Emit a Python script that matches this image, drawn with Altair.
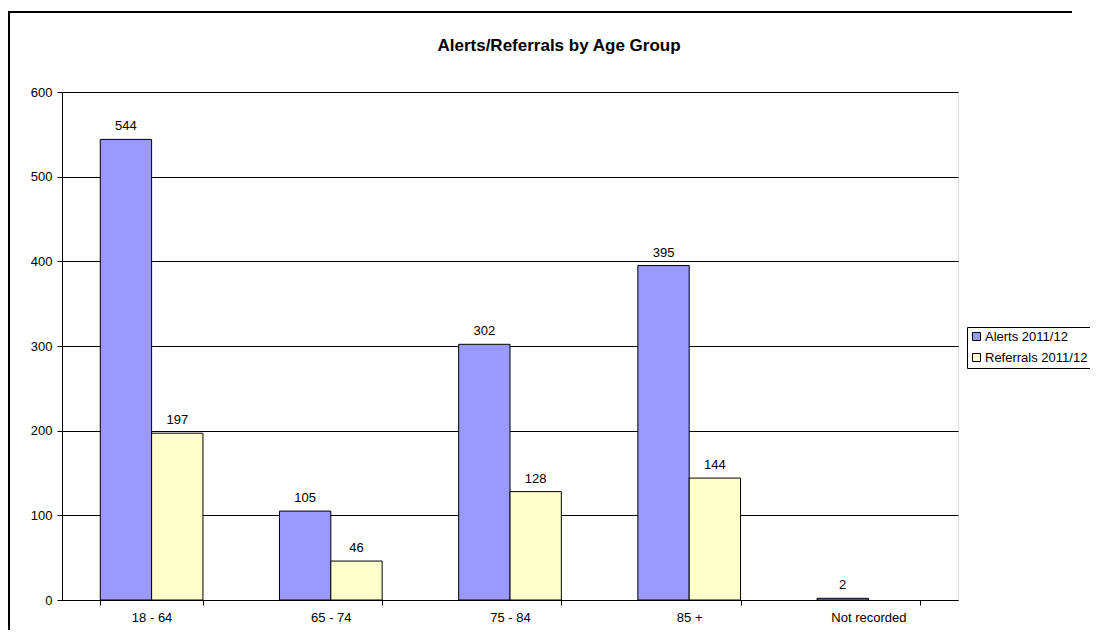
import altair as alt
import pandas as pd

categories = ["18 - 64", "65 - 74", "75 - 84", "85 +", "Not recorded"]
alerts = [544, 105, 302, 395, 2]
referrals = [197, 46, 128, 144, 0]
series = ["Alerts 2011/12", "Referrals 2011/12"]
colors = ["#9999FF", "#FFFFCC"]
y_ticks = [0, 100, 200, 300, 400, 500, 600]
title_text = ["Alerts/Referrals by Age Group"]

rows = []
for c, a, r in zip(categories, alerts, referrals):
    rows.append({"cat": c, "series": series[0], "value": a})
    rows.append({"cat": c, "series": series[1], "value": r})
df = pd.DataFrame(rows)

FONT = "Liberation Sans"

x = alt.X(
    "cat:N",
    sort=categories,
    scale=alt.Scale(paddingInner=0.427, paddingOuter=0.2135),
    axis=alt.Axis(
        title=None, labelAngle=0, tickBand="extent", tickSize=5, labelPadding=6,
        domainColor="black", tickColor="black", labelColor="black",
        labelFontSize=13, labelFont=FONT, grid=False, domainWidth=1,
    ),
)
xo = alt.XOffset("series:N", sort=series, scale=alt.Scale(domain=series, paddingInner=0, paddingOuter=0))
y = alt.Y(
    "value:Q",
    scale=alt.Scale(domain=[0, 600], nice=False),
    axis=alt.Axis(
        title=None, values=y_ticks, tickSize=5, labelPadding=5, grid=True,
        gridColor="black", gridOpacity=1, gridWidth=1,
        domainColor="black", tickColor="black", labelColor="black",
        labelFontSize=13, labelFont=FONT,
    ),
)

base = alt.Chart(df).transform_filter(alt.datum.value > 0)

bars = base.mark_bar(stroke="black", strokeWidth=1).encode(
    x=x,
    xOffset=xo,
    y=y,
    color=alt.Color(
        "series:N",
        sort=series,
        scale=alt.Scale(domain=series, range=colors),
        legend=alt.Legend(
            title=None, orient="none", legendX=905, legendY=235,
            symbolType="square", symbolSize=64, symbolStrokeColor="black",
            symbolStrokeWidth=1, symbolOpacity=1, labelFontSize=13, labelFont=FONT,
            labelColor="black", strokeColor="black", fillColor="white",
            padding=3, rowPadding=7, labelOffset=2,
        ),
    ),
)

labels = base.mark_text(
    fontSize=13, font=FONT, color="black", baseline="alphabetic", dy=-9
).encode(x=x, xOffset=xo, y=y, text=alt.Text("value:Q"))

one = pd.DataFrame({"a": [0]})
border_left = alt.Chart(one).mark_rule(color="black", strokeWidth=2).encode(
    x=alt.value(-53), y=alt.value(-81), y2=alt.value(700)
)
border_top = alt.Chart(one).mark_rect(color="black", strokeWidth=0).encode(
    x=alt.value(-54), x2=alt.value(1010), y=alt.value(-81), y2=alt.value(-79)
)

title = alt.Chart(pd.DataFrame({"t": title_text})).mark_text(
    fontSize=17, font=FONT, fontWeight="bold", color="black",
    align="center", baseline="alphabetic",
).encode(x=alt.value(497), y=alt.value(-41), text="t:N")

chart = alt.layer(bars, labels, border_left, border_top, title).properties(
    width=896,
    height=508,
    autosize=alt.AutoSizeParams(type="none"),
    padding={"left": 54, "top": 84, "right": 132, "bottom": 30},
).configure_view(
    fill="#C0C0C0", stroke="#808080", strokeWidth=2
).configure(background="white")

chart.save("out.html", embed_options={"renderer": "svg", "actions": False})
